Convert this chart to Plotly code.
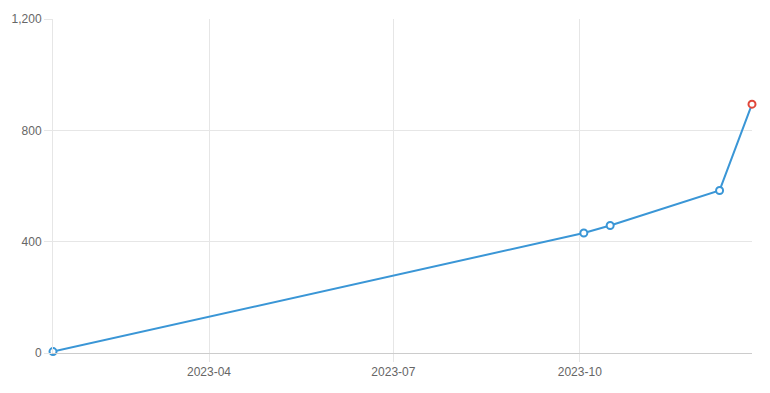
import plotly.graph_objects as go

dates = ["2023-01-14", "2023-10-03", "2023-10-16", "2023-12-09", "2023-12-25"]
values = [5, 431, 458, 584, 894]
marker_colors = ["#3a96d6", "#3a96d6", "#3a96d6", "#3a96d6", "#e0473a"]

fig = go.Figure()
fig.add_trace(go.Scatter(
    x=dates, y=values, mode="lines+markers",
    line=dict(color="#3a96d6", width=2),
    marker=dict(symbol="circle", size=7, color="white",
                line=dict(color=marker_colors, width=2)),
    cliponaxis=False,
    hoverinfo="x+y",
))

fig.update_layout(
    width=770, height=393,
    margin=dict(l=52, r=18, t=17, b=40),
    plot_bgcolor="white", paper_bgcolor="white",
    showlegend=False,
    font=dict(family="Liberation Sans, Arial, sans-serif", size=12, color="#666"),
    xaxis=dict(
        type="date", range=["2023-01-14", "2023-12-25"],
        tickvals=["2023-04-01", "2023-07-01", "2023-10-01"],
        ticktext=["2023-04", "2023-07", "2023-10"],
        showgrid=True, gridcolor="#e6e6e6", gridwidth=1,
        ticks="outside", ticklen=8, tickcolor="#e6e6e6",
        showline=True, linecolor="#cccccc", linewidth=1,
        zeroline=False,
    ),
    yaxis=dict(
        range=[0, 1200], tickvals=[0, 400, 800, 1200],
        tickformat=",", showgrid=True, gridcolor="#e6e6e6", gridwidth=1,
        ticks="outside", ticklen=8, tickcolor="#e6e6e6",
        showline=True, linecolor="#e6e6e6", linewidth=1,
        zeroline=False,
    ),
)

fig.write_html("out.html")
